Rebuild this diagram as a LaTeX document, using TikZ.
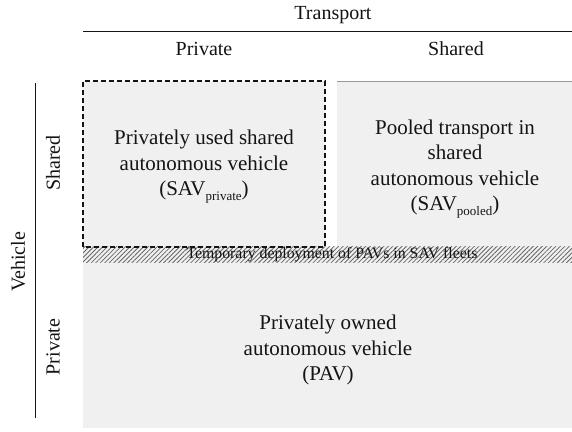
\documentclass[tikz,border=0pt]{standalone}
\usepackage{fontspec}
\setmainfont{Liberation Serif}
\usetikzlibrary{patterns.meta}
\definecolor{cellgray}{RGB}{240,240,240}
\definecolor{inkgray}{RGB}{20,20,20}
\newcommand\lowsub[1]{\raisebox{-5pt}{\fontsize{13}{13}\selectfont #1}}
\tikzset{
  head/.style={font=\fontsize{20}{24}\selectfont, text=inkgray, inner sep=0pt},
  celltext/.style={font=\fontsize{21}{25.5}\selectfont, text=inkgray, align=center, inner sep=0pt},
  cellfill/.style={fill=cellgray, draw=none},
  rule/.style={draw=inkgray, line width=0.8pt},
  dashbox/.style={draw=inkgray, line width=1.1pt, dash pattern=on 5pt off 3pt},
  hatchband/.style={pattern={Lines[angle=45, distance=3.2pt, line width=0.8pt]}, pattern color=black!60},
}
\begin{document}
\begin{tikzpicture}[x=1pt, y=1pt]
  \useasboundingbox (0,0) rectangle (572,431);

  % column headings
  \node[head, anchor=base] (transport) at (333,411) {Transport};
  \coordinate (rtl) at (83,400);
  \coordinate (rtr) at (572,400);
  \draw[rule] (rtl) -- (rtr);
  \node[head, anchor=base] (colpriv) at (204,375) {Private};
  \node[head, anchor=base] (colshared) at (456,375) {Shared};

  % row headings
  \coordinate (rlt) at (35,348);
  \coordinate (rlb) at (35,13);
  \draw[rule] (rlt) -- (rlb);
  \node[head, rotate=90] (vehicle) at (18,169) {Vehicle};
  \node[head, rotate=90] (rowshared) at (53,268) {Shared};
  \node[head, rotate=90] (rowpriv) at (53,84) {Private};

  % cells
  \fill[cellfill] (83,184) rectangle (325,350);
  \fill[cellfill] (337,184) rectangle (572,350);
  \draw[draw=black!40, line width=0.6pt] (337,350) -- (572,350);
  \fill[cellfill] (83,3) rectangle (572,168);

  % hatched band
  \fill[cellgray] (83,168) rectangle (572,184);
  \fill[hatchband] (83,168) rectangle (572,184);
  \node[font=\fontsize{15.8}{17}\selectfont, text=inkgray, anchor=base, inner sep=0pt] (band) at (332,172)
    {Temporary deployment of PAVs in SAV fleets};

  % dashed outline of the private-use cell
  \draw[dashbox] (83,184) rectangle (325,350);

  \node[celltext] (savpriv) at (204,264)
    {Privately used shared\\autonomous vehicle\\(SAV\lowsub{private})};
  \node[celltext] (savpool) at (455,262)
    {Pooled transport in\\shared\\autonomous vehicle\\(SAV\lowsub{pooled})};
  \node[celltext] (pav) at (328,81)
    {Privately owned\\autonomous vehicle\\(PAV)};
\end{tikzpicture}
\end{document}
